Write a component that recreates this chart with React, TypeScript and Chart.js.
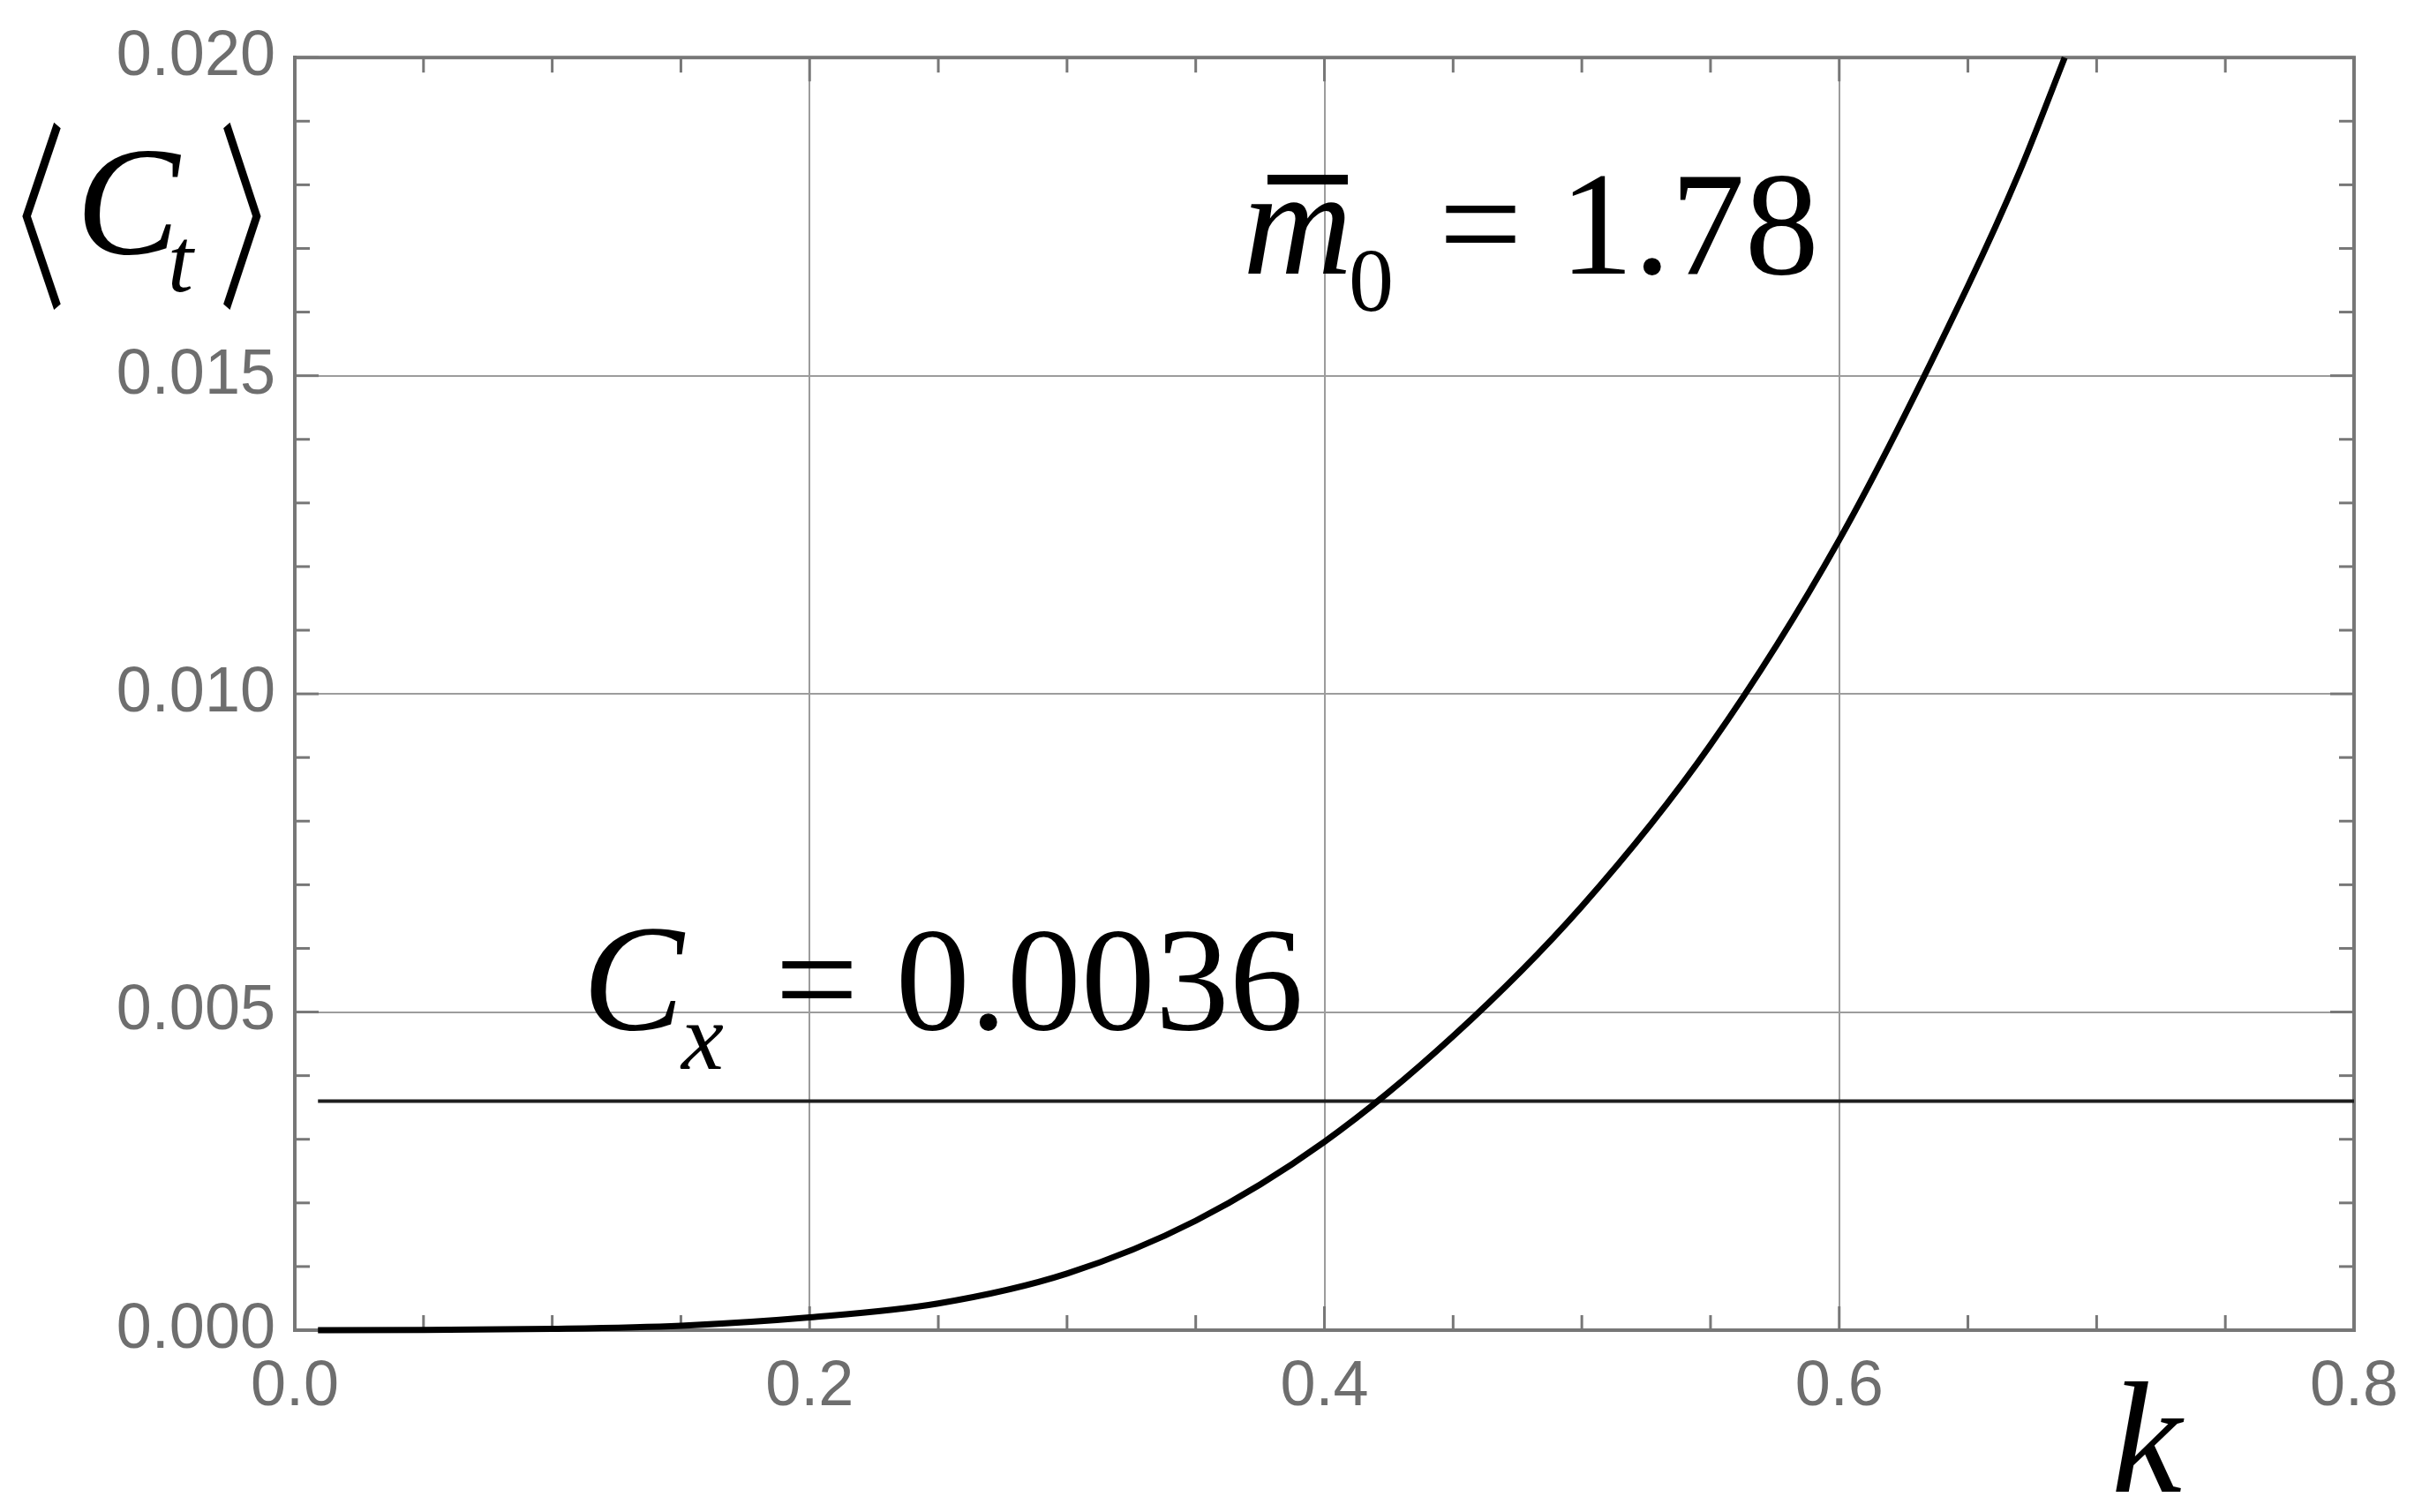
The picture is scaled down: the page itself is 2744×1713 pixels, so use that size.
import { useEffect, useRef } from "react"
import Chart from "chart.js/auto"

// values
const kValues = [0.009, 0.05, 0.1, 0.15, 0.2, 0.25, 0.3, 0.35, 0.4, 0.45, 0.5, 0.55, 0.6, 0.65, 0.67, 0.6876]
const ctValues = [0, 0.000002, 0.00002, 0.00007, 0.0002, 0.00042, 0.00089, 0.00172, 0.00296, 0.00462, 0.00666, 0.0092, 0.01242, 0.01641, 0.0182, 0.02]

// horizontal reference level C_x
const cxK = [0.009, 0.8]
const cxValues = [0.0036, 0.0036]

const xTickValues = [0, 0.2, 0.4, 0.6, 0.8]
const yTickValues = [0, 0.005, 0.01, 0.015, 0.02]

const FRAME = "#777777"
const GRID = "#9c9c9c"
const TICK_TEXT = "#6e6e6e"
const SERIF = '"Liberation Serif", "Times New Roman", serif'

function fitGlyph(ctx: CanvasRenderingContext2D, ch: string, font: string, l: number, t: number, r: number, b: number) {
  ctx.font = font
  const m = ctx.measureText(ch)
  const w = m.actualBoundingBoxLeft + m.actualBoundingBoxRight
  const h = m.actualBoundingBoxAscent + m.actualBoundingBoxDescent
  ctx.save()
  ctx.translate(l, t)
  ctx.scale((r - l) / w, (b - t) / h)
  ctx.fillText(ch, m.actualBoundingBoxLeft, m.actualBoundingBoxAscent)
  ctx.restore()
}

const framePlugin = {
  id: "frame",
  beforeDatasetsDraw(chart: any) {
    const { ctx, chartArea: a, scales } = chart
    const x = scales.x
    const y = scales.y
    const seg = (x1: number, y1: number, x2: number, y2: number) => {
      ctx.beginPath()
      ctx.moveTo(x1, y1)
      ctx.lineTo(x2, y2)
      ctx.stroke()
    }
    ctx.save()
    ctx.strokeStyle = FRAME
    ctx.lineWidth = 3
    // inward ticks on all four sides, minor every 0.05 / 0.001
    for (let i = 0; i <= 16; i++) {
      const px = x.getPixelForValue(i * 0.05)
      const len = i % 4 === 0 ? 27 : 17
      seg(px, a.bottom, px, a.bottom - len)
      seg(px, a.top, px, a.top + len)
    }
    for (let i = 0; i <= 20; i++) {
      const py = y.getPixelForValue(i * 0.001)
      const len = i % 5 === 0 ? 27 : 17
      seg(a.left, py, a.left + len, py)
      seg(a.right, py, a.right - len, py)
    }
    ctx.lineWidth = 4
    ctx.strokeRect(a.left, a.top, a.right - a.left, a.bottom - a.top)
    ctx.restore()
  },
  afterDraw(chart: any) {
    const { ctx } = chart
    ctx.save()
    ctx.fillStyle = "#000"
    ctx.textAlign = "left"
    ctx.textBaseline = "alphabetic"

    // y title <C_t>
    fitGlyph(ctx, "\u3008", '200px "Noto Sans CJK JP", "DejaVu Sans"', 25, 137, 69, 350)
    fitGlyph(ctx, "\u3009", '200px "Noto Sans CJK JP", "DejaVu Sans"', 253, 137, 296, 350)
    ctx.font = `italic 176px ${SERIF}`
    ctx.fillText("C", 86, 287)
    ctx.font = `italic 104px ${SERIF}`
    ctx.fillText("t", 190, 330)

    // x title
    ctx.font = `italic 180px ${SERIF}`
    ctx.fillText("k", 2392, 1690)

    // C_x = 0.0036
    ctx.font = `italic 172px ${SERIF}`
    ctx.fillText("C", 660, 1166)
    ctx.font = `italic 108px ${SERIF}`
    ctx.fillText("x", 772, 1211)
    ctx.font = `168px ${SERIF}`
    ctx.fillText("= 0.0036", 878, 1166)

    // m0 = 1.78
    ctx.font = `italic 172px ${SERIF}`
    ctx.fillText("m", 1408, 310)
    ctx.fillRect(1436, 198, 91, 11)
    ctx.font = `102px ${SERIF}`
    ctx.fillText("0", 1528, 352)
    ctx.font = `168px ${SERIF}`
    ctx.fillText("= 1.78", 1630, 310)
    ctx.restore()
  },
}

export default function App() {
  const canvasRef = useRef<HTMLCanvasElement>(null)
  const chartRef = useRef<Chart | null>(null)

  useEffect(() => {
    if (!canvasRef.current) return
    if (chartRef.current) chartRef.current.destroy()

    chartRef.current = new Chart(canvasRef.current, {
      type: "line",
      data: {
        datasets: [
          {
            label: "Ct",
            data: kValues.map((k, i) => ({ x: k, y: ctValues[i] })),
            borderColor: "#000",
            borderWidth: 7,
            pointRadius: 0,
            cubicInterpolationMode: "monotone",
            clip: 8,
          },
          {
            label: "Cx",
            data: cxK.map((k, i) => ({ x: k, y: cxValues[i] })),
            borderColor: "#1e1e1e",
            borderWidth: 4,
            pointRadius: 0,
          },
        ],
      },
      options: {
        animation: false,
        responsive: true,
        maintainAspectRatio: false,
        devicePixelRatio: 1,
        layout: { padding: { left: 0, top: 58, right: 77, bottom: 0 } },
        plugins: {
          legend: { display: false },
          tooltip: { enabled: false },
        },
        scales: {
          x: {
            type: "linear",
            min: 0,
            max: 0.8,
            afterBuildTicks: (scale: any) => {
              scale.ticks = xTickValues.map((v) => ({ value: v }))
            },
            afterFit: (scale: any) => {
              scale.height = 206
            },
            ticks: {
              padding: 22,
              maxRotation: 0,
              autoSkip: false,
              color: TICK_TEXT,
              font: { family: '"Liberation Sans", Arial, sans-serif', size: 72 },
              callback: (v: any) => Number(v).toFixed(1),
            },
            grid: { color: GRID, lineWidth: 2, drawTicks: false },
            border: { display: true, color: FRAME, width: 4 },
          },
          y: {
            type: "linear",
            min: 0,
            max: 0.02,
            afterBuildTicks: (scale: any) => {
              scale.ticks = yTickValues.map((v) => ({ value: v }))
            },
            afterFit: (scale: any) => {
              scale.width = 334
            },
            ticks: {
              padding: 22,
              autoSkip: false,
              color: TICK_TEXT,
              font: { family: '"Liberation Sans", Arial, sans-serif', size: 72 },
              callback: (v: any) => Number(v).toFixed(3),
            },
            grid: { color: GRID, lineWidth: 2, drawTicks: false },
            border: { display: true, color: FRAME, width: 4 },
          },
        },
      },
      plugins: [framePlugin],
    })

    return () => {
      if (chartRef.current) {
        chartRef.current.destroy()
        chartRef.current = null
      }
    }
  }, [])

  return (
    <div style={{ position: "absolute", left: 0, top: 0, width: 2744, height: 1713, background: "#fff" }}>
      <canvas ref={canvasRef}></canvas>
    </div>
  )
}
